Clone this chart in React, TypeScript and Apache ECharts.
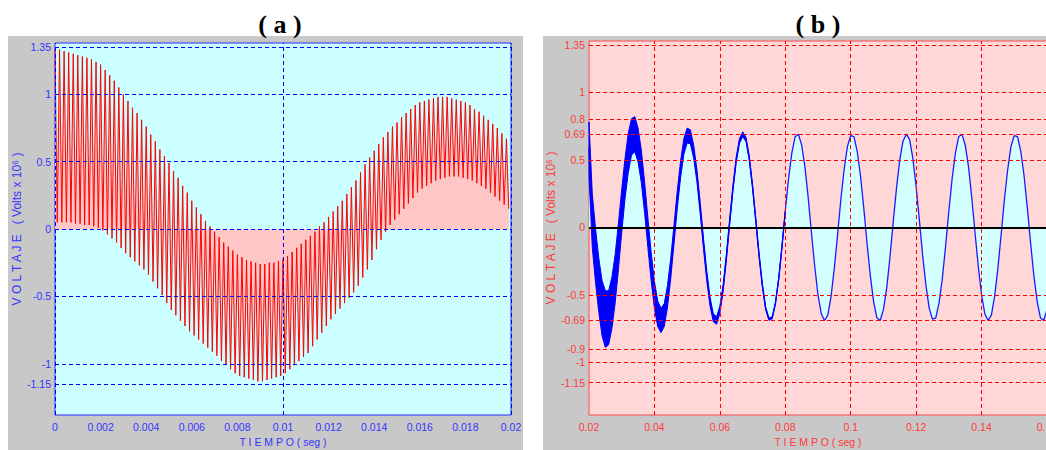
import React, { useEffect, useRef } from "react";
import * as echarts from "echarts";

// ---------- Panel (a): fast oscillation, one peak + one trough per cycle ----------
const A_CYCLE = 0.0002; // seconds per oscillation cycle
const A_UPPER = [
  1.33, 1.33, 1.32, 1.31, 1.3, 1.29, 1.28, 1.27, 1.26, 1.24,
  1.22, 1.18, 1.14, 1.1, 1.05, 1.0, 0.95, 0.9, 0.86, 0.81,
  0.76, 0.7, 0.65, 0.59, 0.54, 0.49, 0.43, 0.38, 0.32, 0.27,
  0.21, 0.16, 0.11, 0.06, 0.02, -0.02, -0.06, -0.1, -0.13, -0.16,
  -0.19, -0.21, -0.23, -0.24, -0.25, -0.26, -0.26, -0.25, -0.25, -0.24,
  -0.22, -0.2, -0.17, -0.14, -0.11, -0.08, -0.05, -0.02, 0.02, 0.05,
  0.09, 0.13, 0.17, 0.21, 0.26, 0.31, 0.36, 0.42, 0.48, 0.53,
  0.58, 0.63, 0.68, 0.72, 0.76, 0.79, 0.83, 0.86, 0.89, 0.92,
  0.94, 0.95, 0.96, 0.97, 0.98, 0.98, 0.98, 0.97, 0.96, 0.95,
  0.94, 0.92, 0.89, 0.87, 0.84, 0.81, 0.78, 0.75, 0.71, 0.67,
];
const A_LOWER = [
  0.05, 0.05, 0.05, 0.05, 0.04, 0.04, 0.03, 0.03, 0.02, 0.01,
  -0.01, -0.04, -0.07, -0.1, -0.14, -0.18, -0.21, -0.24, -0.27, -0.3,
  -0.34, -0.39, -0.44, -0.49, -0.55, -0.6, -0.64, -0.68, -0.72, -0.76,
  -0.79, -0.82, -0.85, -0.88, -0.91, -0.94, -0.98, -1.01, -1.04, -1.07,
  -1.09, -1.1, -1.11, -1.12, -1.13, -1.13, -1.12, -1.11, -1.1, -1.09,
  -1.07, -1.04, -1.01, -0.98, -0.95, -0.92, -0.87, -0.82, -0.77, -0.72,
  -0.67, -0.63, -0.59, -0.55, -0.51, -0.47, -0.42, -0.36, -0.3, -0.23,
  -0.15, -0.08, -0.02, 0.03, 0.07, 0.11, 0.15, 0.19, 0.23, 0.27,
  0.3, 0.32, 0.34, 0.36, 0.37, 0.38, 0.39, 0.39, 0.39, 0.38,
  0.37, 0.36, 0.34, 0.32, 0.3, 0.27, 0.24, 0.21, 0.18, 0.15,
];
const A_Y_TICKS = [1.35, 1, 0.5, 0, -0.5, -1, -1.15];
const A_X_GRID = [0.002, 0.004, 0.006, 0.008, 0.01, 0.012, 0.014, 0.016, 0.018];

// ---------- Panel (b): 60 Hz wave sampled every 1 ms from 0.02 s ----------
const B_START = 0.02;
const B_STEP = 0.001;
const B_WAVE = [
  0.58, 0.05,
  -0.21, -0.43, -0.6, -0.68, -0.67, -0.56, -0.38, -0.14, 0.12, 0.36,
  0.55, 0.67, 0.69, 0.61, 0.45, 0.22, -0.04, -0.29, -0.5, -0.64,
  -0.69, -0.65, -0.51, -0.3, -0.05, 0.21, 0.43, 0.6, 0.68, 0.67,
  0.56, 0.38, 0.14, -0.12, -0.36, -0.55, -0.67, -0.69, -0.61, -0.45,
  -0.22, 0.04, 0.29, 0.5, 0.64, 0.69, 0.65, 0.51, 0.3, 0.05,
  -0.21, -0.43, -0.6, -0.68, -0.67, -0.56, -0.38, -0.14, 0.12, 0.36,
  0.55, 0.67, 0.69, 0.61, 0.45, 0.22, -0.04, -0.29, -0.5, -0.64,
  -0.69, -0.65, -0.51, -0.3, -0.05, 0.21, 0.43, 0.6, 0.68, 0.67,
  0.56, 0.38, 0.14, -0.12, -0.36, -0.55, -0.67, -0.69, -0.61, -0.45,
  -0.22, 0.04, 0.29, 0.5, 0.64, 0.69, 0.65, 0.51, 0.3, 0.05,
  -0.21, -0.43, -0.6, -0.68, -0.67, -0.56, -0.38, -0.14, 0.12, 0.36,
  0.55, 0.67, 0.69, 0.61, 0.45, 0.22, -0.04, -0.29, -0.5, -0.64,
  -0.69, -0.65, -0.51, -0.3, -0.05, 0.21, 0.43, 0.6, 0.68, 0.67,
  0.56, 0.38, 0.14, -0.12, -0.36, -0.55, -0.67, -0.69, -0.61,
];
// half-width of the high-frequency ripple riding on the wave (same sampling)
const B_BAND = [
  0.2, 0.2, 0.2, 0.2, 0.205, 0.21, 0.2, 0.19, 0.18, 0.17,
  0.16, 0.15, 0.145, 0.135, 0.13, 0.125, 0.12, 0.115, 0.11, 0.105,
  0.1, 0.095, 0.09, 0.085, 0.08, 0.075, 0.07, 0.066, 0.062, 0.058,
  0.055, 0.052, 0.048, 0.045, 0.042, 0.039, 0.036, 0.033, 0.03, 0.028,
  0.026, 0.024, 0.022, 0.021, 0.02, 0.019, 0.018, 0.017, 0.016, 0.015,
  0.014, 0.013, 0.012, 0.011, 0.01, 0.009, 0.008, 0.006, 0.004, 0.002, 0,
];
const B_Y_TICKS = [1.35, 1, 0.8, 0.69, 0.5, 0, -0.5, -0.69, -0.9, -1, -1.15];
const B_X_GRID = [0.04, 0.06, 0.08, 0.1, 0.12, 0.14];

const FONT = '"Liberation Sans", Arial, sans-serif';
const BLUE_TXT = "#3434ff";
const RED_TXT = "#ff3a3a";

function fmt(v: number) {
  return String(parseFloat(Number(v).toFixed(4)));
}

export default function App() {
  const ref = useRef<HTMLDivElement>(null);

  useEffect(() => {
    document.body.style.margin = "0";
    const chart = echarts.init(ref.current!, null, { renderer: "svg" });

    const aData: number[][] = [];
    A_UPPER.forEach((u, k) => {
      aData.push([k * A_CYCLE, u]);
      aData.push([k * A_CYCLE + A_CYCLE / 2, A_LOWER[k]]);
    });
    const bData = B_WAVE.map((v, i) => [B_START + i * B_STEP, v]);

    const yName = "V O L T A J E   ( Volts x 10\u2076 )";
    const xName = "T I E M P O ( seg )";

    const option: any = {
      animation: false,
      textStyle: { fontFamily: FONT },
      graphic: [
        { type: "rect", z: -10, shape: { x: 8, y: 36, width: 515, height: 414 }, style: { fill: "#c8c8c8" } },
        { type: "rect", z: -10, shape: { x: 543, y: 36, width: 503, height: 414 }, style: { fill: "#c8c8c8" } },
        {
          type: "text", x: 280, y: 24, z: 10,
          style: { text: "( a )", font: 'bold 26px "Liberation Serif", "Times New Roman", serif', fill: "#000", align: "center", verticalAlign: "middle" },
        },
        {
          type: "text", x: 818, y: 24, z: 10,
          style: { text: "( b )", font: 'bold 26px "Liberation Serif", "Times New Roman", serif', fill: "#000", align: "center", verticalAlign: "middle" },
        },
      ],
      grid: [
        { left: 55, top: 43, width: 456, height: 372, show: true, backgroundColor: "#ccffff", borderColor: "#2a2aff", borderWidth: 1, outerBoundsMode: "none", containLabel: false },
        { left: 589, top: 41, width: 458, height: 374, show: true, backgroundColor: "#ffd7d7", borderColor: "#ff4a4a", borderWidth: 1, outerBoundsMode: "none", containLabel: false },
      ],
      xAxis: [
        {
          type: "value", gridIndex: 0, min: 0, max: 0.02, interval: 0.002,
          axisLine: { show: false }, axisTick: { show: false }, splitLine: { show: false },
          axisLabel: { color: BLUE_TXT, fontSize: 10.5, margin: 6, formatter: fmt },
          name: xName, nameLocation: "middle", nameGap: 19,
          nameTextStyle: { color: BLUE_TXT, fontSize: 10.5 },
        },
        {
          type: "value", gridIndex: 1, min: 0.02, max: 0.16, interval: 0.02,
          axisLine: { show: false }, axisTick: { show: false }, splitLine: { show: false },
          axisLabel: { color: RED_TXT, fontSize: 10.5, margin: 6, formatter: fmt },
          name: xName, nameLocation: "middle", nameGap: 19,
          nameTextStyle: { color: RED_TXT, fontSize: 10.5 },
        },
      ],
      yAxis: [
        {
          type: "value", gridIndex: 0, min: -1.38, max: 1.38,
          axisLine: { show: false }, axisTick: { show: false }, splitLine: { show: false },
          axisLabel: { color: BLUE_TXT, fontSize: 10.5, margin: 4, customValues: A_Y_TICKS, formatter: fmt },
          name: yName, nameLocation: "middle", nameGap: 29,
          nameTextStyle: { color: BLUE_TXT, fontSize: 12 },
        },
        {
          type: "value", gridIndex: 1, min: -1.39, max: 1.38,
          axisLine: { show: false }, axisTick: { show: false }, splitLine: { show: false },
          axisLabel: { color: RED_TXT, fontSize: 10.5, margin: 4, customValues: B_Y_TICKS, formatter: fmt },
          name: yName, nameLocation: "middle", nameGap: 32,
          nameTextStyle: { color: RED_TXT, fontSize: 12 },
        },
      ],
      series: [
        {
          type: "line", xAxisIndex: 0, yAxisIndex: 0, data: aData,
          showSymbol: false, symbol: "none", silent: true, z: 2,
          lineStyle: { color: "#ff0000", width: 1 },
          areaStyle: { color: "#ffc6c6", opacity: 1 },
        },
        {
          type: "line", xAxisIndex: 1, yAxisIndex: 1, data: bData,
          showSymbol: false, symbol: "none", silent: true, z: 2,
          lineStyle: { color: "#1a1aff", width: 1.3 },
          areaStyle: { color: "#d4ffff", opacity: 1 },
        },
        {
          type: "custom", xAxisIndex: 1, yAxisIndex: 1, data: [[B_START, 0]], silent: true, z: 3,
          renderItem: (_p: any, api: any) => {
            const up: number[][] = [];
            const lo: number[][] = [];
            B_BAND.forEach((h, i) => {
              const t = B_START + i * B_STEP;
              up.push(api.coord([t, B_WAVE[i] + h]));
              lo.push(api.coord([t, B_WAVE[i] - h]));
            });
            return {
              type: "polygon",
              shape: { points: up.concat(lo.reverse()) },
              style: { fill: "#0000ff", stroke: "#0000ff", lineWidth: 1 },
            };
          },
        },
        {
          type: "line", xAxisIndex: 0, yAxisIndex: 0, data: [], z: 6, silent: true,
          markLine: {
            silent: true, symbol: ["none", "none"], label: { show: false },
            lineStyle: { color: "#0000ff", type: [4, 3], width: 1 },
            data: [
              ...A_Y_TICKS.map((v) => ({ yAxis: v })),
              ...A_X_GRID.map((v) => ({ xAxis: v })),
            ],
          },
        },
        {
          type: "line", xAxisIndex: 1, yAxisIndex: 1, data: [], z: 6, silent: true,
          markLine: {
            silent: true, symbol: ["none", "none"], label: { show: false },
            lineStyle: { color: "#ff0000", type: [4, 3], width: 1 },
            data: [
              ...B_Y_TICKS.filter((v) => v !== 0).map((v) => ({ yAxis: v })),
              ...B_X_GRID.map((v) => ({ xAxis: v })),
              { yAxis: 0, lineStyle: { color: "#000000", type: "solid", width: 2 } },
            ],
          },
        },
      ],
    };

    chart.setOption(option);
    return () => chart.dispose();
  }, []);

  return <div ref={ref} style={{ width: 1046, height: 450 }} />;
}
